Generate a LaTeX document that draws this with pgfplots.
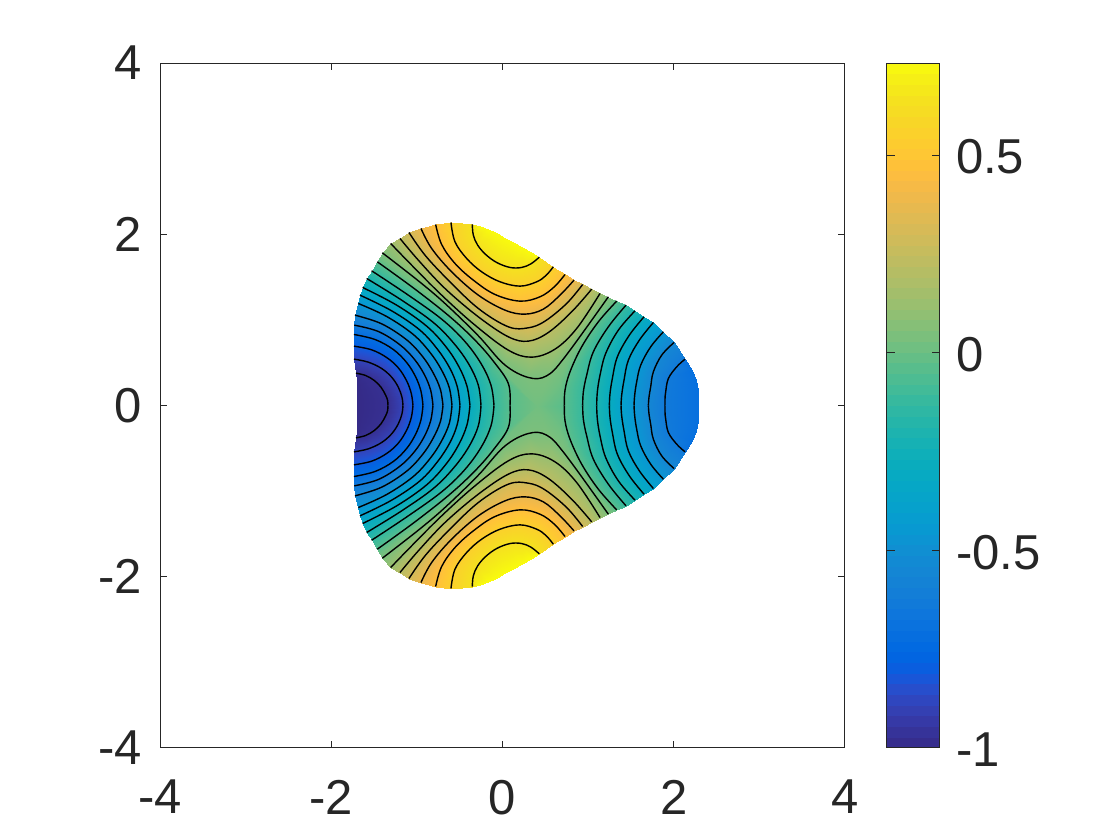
\documentclass[border=0pt]{standalone}
\usepackage{fontspec}
\setmainfont{Liberation Sans}
\usepackage{pgfplots}
\usepackage{pgfplotstable}
\pgfplotsset{compat=1.18}
\definecolor{axisgray}{rgb}{0.15,0.15,0.15}

\pgfplotsset{colormap={parula}{
  rgb=(0.2081,0.1663,0.5292) rgb=(0.2116,0.1898,0.5777) rgb=(0.2123,0.2138,0.6270) rgb=(0.2081,0.2386,0.6771)
  rgb=(0.1959,0.2645,0.7279) rgb=(0.1707,0.2919,0.7792) rgb=(0.1253,0.3242,0.8303) rgb=(0.0591,0.3598,0.8683)
  rgb=(0.0117,0.3875,0.8820) rgb=(0.0060,0.4086,0.8828) rgb=(0.0165,0.4266,0.8786) rgb=(0.0329,0.4430,0.8720)
  rgb=(0.0498,0.4586,0.8641) rgb=(0.0629,0.4737,0.8554) rgb=(0.0723,0.4887,0.8467) rgb=(0.0779,0.5040,0.8384)
  rgb=(0.0793,0.5200,0.8312) rgb=(0.0749,0.5375,0.8263) rgb=(0.0641,0.5570,0.8240) rgb=(0.0488,0.5772,0.8228)
  rgb=(0.0343,0.5966,0.8199) rgb=(0.0265,0.6137,0.8135) rgb=(0.0239,0.6287,0.8038) rgb=(0.0231,0.6418,0.7913)
  rgb=(0.0228,0.6535,0.7768) rgb=(0.0267,0.6642,0.7607) rgb=(0.0384,0.6743,0.7436) rgb=(0.0590,0.6838,0.7254)
  rgb=(0.0843,0.6928,0.7062) rgb=(0.1133,0.7015,0.6859) rgb=(0.1453,0.7098,0.6646) rgb=(0.1801,0.7177,0.6424)
  rgb=(0.2178,0.7250,0.6193) rgb=(0.2586,0.7317,0.5954) rgb=(0.3022,0.7376,0.5712) rgb=(0.3482,0.7424,0.5473)
  rgb=(0.3953,0.7459,0.5244) rgb=(0.4420,0.7481,0.5033) rgb=(0.4871,0.7491,0.4840) rgb=(0.5300,0.7491,0.4661)
  rgb=(0.5709,0.7485,0.4494) rgb=(0.6099,0.7473,0.4337) rgb=(0.6473,0.7456,0.4188) rgb=(0.6834,0.7435,0.4044)
  rgb=(0.7184,0.7411,0.3905) rgb=(0.7525,0.7384,0.3768) rgb=(0.7858,0.7356,0.3633) rgb=(0.8185,0.7327,0.3498)
  rgb=(0.8507,0.7299,0.3360) rgb=(0.8824,0.7274,0.3217) rgb=(0.9139,0.7258,0.3063) rgb=(0.9450,0.7261,0.2886)
  rgb=(0.9739,0.7314,0.2666) rgb=(0.9938,0.7455,0.2403) rgb=(0.9990,0.7653,0.2164) rgb=(0.9955,0.7861,0.1967)
  rgb=(0.9880,0.8066,0.1794) rgb=(0.9789,0.8271,0.1633) rgb=(0.9697,0.8481,0.1475) rgb=(0.9626,0.8705,0.1309)
  rgb=(0.9589,0.8949,0.1132) rgb=(0.9598,0.9218,0.0948) rgb=(0.9661,0.9514,0.0755) rgb=(0.9763,0.9831,0.0538)
}}

% contour lines, upper half only (the field is mirror symmetric in y).
% u,v are trace units: 256.8 per data unit, x=0 at u=472.5, y=0 at v=571. z is the level.

% left family, 7 points per line; first row is the left edge of the dark blob
\pgfplotstableread{
u v z
37 480 -1
37 495 -1
37 510 -1
37 525 -1
37 540 -1
37 555 -1
37 571 -1
33 474 -0.975
62 481 -0.975
88 496 -0.975
108 516 -0.975
122 540 -0.975
128 556 -0.975
129 571 -0.975
27 432 -0.89
70 441 -0.89
110 460 -0.89
140 486 -0.89
160 516 -0.89
171 546 -0.89
174 571 -0.89
27 393 -0.805
80 404 -0.805
125 427 -0.805
160 458 -0.805
185 497 -0.805
199 535 -0.805
204 571 -0.805
27 358 -0.72
90 373 -0.72
145 403 -0.72
185 442 -0.72
212 485 -0.72
228 528 -0.72
234 571 -0.72
28 330 -0.635
100 349 -0.635
165 389 -0.635
208 432 -0.635
238 478 -0.635
257 525 -0.635
264 571 -0.635
30 300 -0.55
110 326 -0.55
185 374 -0.55
232 423 -0.55
264 472 -0.55
286 522 -0.55
294 571 -0.55
40 265 -0.465
125 304 -0.465
205 358 -0.465
256 413 -0.465
290 465 -0.465
313 518 -0.465
321 571 -0.465
45 240 -0.38
140 287 -0.38
225 345 -0.38
278 403 -0.38
315 460 -0.38
337 515 -0.38
345 571 -0.38
53 217 -0.295
155 270 -0.295
245 333 -0.295
303 395 -0.295
342 455 -0.295
366 513 -0.295
375 571 -0.295
65 190 -0.21
170 255 -0.21
265 322 -0.21
327 385 -0.21
372 448 -0.21
400 510 -0.21
408 571 -0.21
80 167 -0.125
190 240 -0.125
290 312 -0.125
358 377 -0.125
408 445 -0.125
438 510 -0.125
447 571 -0.125
97 140 -0.04
210 222 -0.04
315 305 -0.04
390 375 -0.04
445 438 -0.04
490 505 -0.04
495 571 -0.04
}\tabLeft

% right family, 6 points per line; last row is the outer edge of the right lobe
\pgfplotstableread{
u v z
815 258 -0.04
760 320 -0.04
710 395 -0.04
675 470 -0.04
660 525 -0.04
658 571 -0.04
843 270 -0.125
790 335 -0.125
745 410 -0.125
725 480 -0.125
715 530 -0.125
713 571 -0.125
870 287 -0.21
820 345 -0.21
782 415 -0.21
765 480 -0.21
757 530 -0.21
755 571 -0.21
897 305 -0.295
853 360 -0.295
817 425 -0.295
802 490 -0.295
795 535 -0.295
793 571 -0.295
925 322 -0.38
883 375 -0.38
850 435 -0.38
837 495 -0.38
830 540 -0.38
828 571 -0.38
955 350 -0.465
917 395 -0.465
887 450 -0.465
875 500 -0.465
869 540 -0.465
867 571 -0.465
987 382 -0.55
950 420 -0.55
925 470 -0.55
917 515 -0.55
912 545 -0.55
910 571 -0.55
1020 432 -0.635
995 455 -0.635
970 490 -0.635
962 530 -0.635
960 550 -0.635
960 571 -0.635
1020 432 -0.70
1040 465 -0.70
1052 495 -0.70
1058 525 -0.70
1060 550 -0.70
1060 571 -0.70
}\tabRight

% top family, 9 points per line; first row is the outer edge of the yellow lobe
\pgfplotstableread{
u v z
382 28 0.733
405 34 0.733
430 43 0.733
455 55 0.733
480 68 0.733
505 82 0.733
530 96 0.733
558 111 0.733
583 126 0.733
382 28 0.64
385 60 0.64
398 90 0.64
422 118 0.64
455 142 0.64
495 157 0.64
530 157 0.64
558 146 0.64
583 126 0.64
318 22 0.555
330 80 0.555
365 130 0.555
410 170 0.555
465 200 0.555
525 213 0.555
575 200 0.555
603 181 0.555
625 155 0.555
272 28 0.47
290 88 0.47
330 145 0.47
385 195 0.47
450 238 0.47
525 258 0.47
585 245 0.47
628 215 0.47
660 178 0.47
228 40 0.385
260 100 0.385
320 170 0.385
400 240 0.385
480 285 0.385
540 297 0.385
595 282 0.385
645 240 0.385
687 195 0.385
192 52 0.30
240 120 0.30
310 195 0.30
400 280 0.30
490 335 0.30
550 338 0.30
600 318 0.30
665 265 0.30
713 208 0.30
165 70 0.215
220 135 0.215
300 220 0.215
400 305 0.215
490 365 0.215
550 378 0.215
610 352 0.215
680 290 0.215
740 222 0.215
137 85 0.13
200 150 0.13
290 240 0.13
390 330 0.13
490 405 0.13
560 426 0.13
630 402 0.13
695 340 0.13
765 235 0.13
112 113 0.045
220 197 0.045
300 265 0.045
400 362 0.045
478 448 0.045
550 487 0.045
605 482 0.045
660 425 0.045
790 245 0.045
}\tabTop

% the saddle in the middle, 13 points per row, no contour of its own
\pgfplotstableread{
u v z
112 113 0.045
220 197 0.045
300 265 0.045
350 313 0.045
400 362 0.045
478 448 0.045
550 487 0.045
605 482 0.045
632 454 0.045
660 425 0.045
693 379 0.045
741 313 0.045
790 245 0.045
104 126 0.02
215 210 0.02
308 285 0.02
370 344 0.02
422 400 0.02
484 476 0.02
575 571 0.02
575 571 0.02
645 490 0.02
667 447 0.02
701 388 0.02
750 316 0.02
802 251 0.02
97 140 -0.04
210 222 -0.04
315 305 -0.04
390 375 -0.04
445 438 -0.04
490 505 -0.04
495 571 -0.04
658 571 -0.04
660 525 -0.04
675 470 -0.04
710 395 -0.04
760 320 -0.04
815 258 -0.04
}\tabMiddle

\def\tx{\thisrow{u}/256.8-1.84}
\def\tup{(571-\thisrow{v})/256.8}
\def\tdown{(\thisrow{v}-571)/256.8}

% filled strips of one family, both halves
\newcommand{\family}[2]{%
  \addplot[surf,shader=interp,mesh/cols=#2,point meta=\thisrow{z},forget plot]
    table[x expr=\tx,y expr=\tup] {#1};
  \addplot[surf,shader=interp,mesh/cols=#2,point meta=\thisrow{z},forget plot]
    table[x expr=\tx,y expr=\tdown] {#1};
}
% black lines of one family: table, points per line, first and last line number
\newcommand{\lines}[4]{%
  \pgfplotsforeachungrouped \i in {#3,...,#4}{%
    \pgfmathtruncatemacro\a{\i*#2}%
    \pgfmathtruncatemacro\b{\a+#2}%
    \edef\temp{\noexpand\addplot[black,line width=0.7pt,smooth,tension=0.6,forget plot,
        skip coords between index={0}{\a},skip coords between index={\b}{100000}]
      table[x expr=\noexpand\tx,y expr=\noexpand\tup] {\noexpand#1};
      \noexpand\addplot[black,line width=0.7pt,smooth,tension=0.6,forget plot,
        skip coords between index={0}{\a},skip coords between index={\b}{100000}]
      table[x expr=\noexpand\tx,y expr=\noexpand\tdown] {\noexpand#1};}%
    \temp
  }%
}

\begin{document}
\begin{tikzpicture}
\path[use as bounding box] (0,0) rectangle (560pt,420pt);
\begin{axis}[
  at={(80pt,46pt)},
  anchor=south west,
  scale only axis,
  width=342.5pt,
  height=342.5pt,
  xmin=-4,xmax=4,
  ymin=-4,ymax=4,
  xtick={-4,-2,0,2,4},
  ytick={-4,-2,0,2,4},
  xticklabels={-4,-2,0,2,4},
  yticklabels={-4,-2,0,2,4},
  axis line style={axisgray,line width=0.5pt},
  tick style={axisgray,line width=0.5pt},
  major tick length=3.5pt,
  tick align=inside,
  tick label style={font=\fontsize{24.5}{25}\selectfont,text=axisgray},
  xticklabel style={yshift=-12.5pt},
  yticklabel style={xshift=-5.5pt},
  point meta min=-1,
  point meta max=0.733,
  colorbar sampled,
  colorbar style={
    at={(1.0613,0)},
    anchor=south west,
    width=26.5pt,
    samples=65,
    ytick={-1,-0.5,0,0.5},
    yticklabels={-1,-0.5,0,0.5},
    axis line style={axisgray,line width=0.5pt},
    ytick style={axisgray,line width=0.5pt},
    major tick length=4pt,
    tick align=inside,
    yticklabel style={font=\fontsize{24.5}{25}\selectfont,text=axisgray,xshift=4.5pt,yshift=-1pt},
  },
]
\family{\tabMiddle}{13}
\family{\tabLeft}{7}
\family{\tabRight}{6}
\family{\tabTop}{9}
\lines{\tabLeft}{7}{1}{12}
\lines{\tabRight}{6}{0}{7}
\lines{\tabTop}{9}{1}{8}
\end{axis}
\end{tikzpicture}
\end{document}
